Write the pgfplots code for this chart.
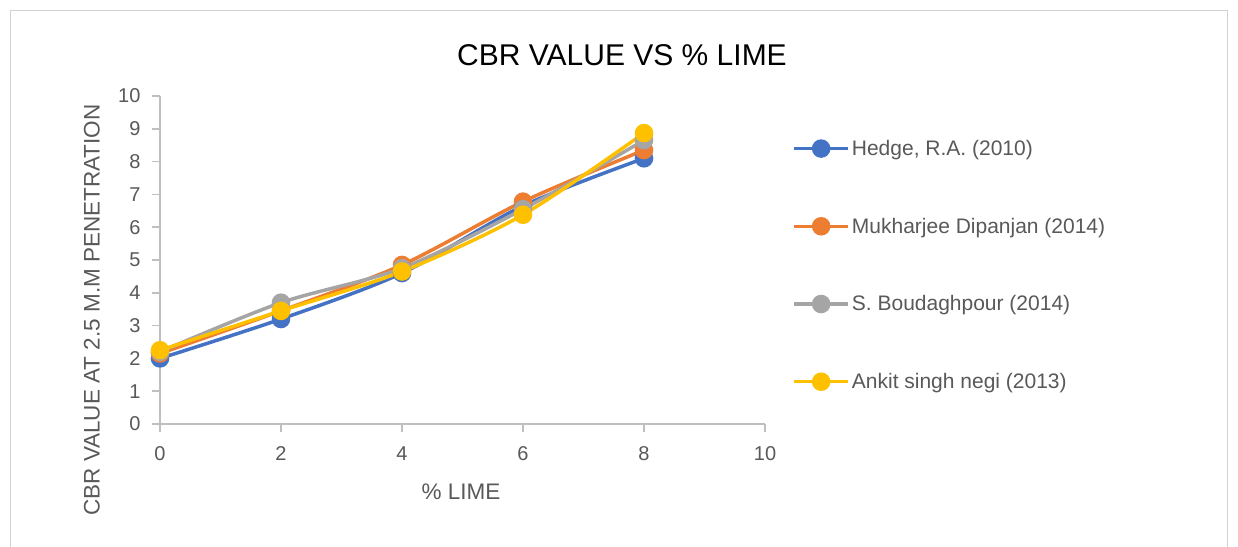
\documentclass[border=0pt]{standalone}
\usepackage{pgfplots}
\pgfplotsset{compat=1.18}
\usepackage{fontspec}
\setmainfont{Liberation Sans}
\definecolor{cblue}{HTML}{4472C4}
\definecolor{corange}{HTML}{ED7D31}
\definecolor{cgray}{HTML}{A5A5A5}
\definecolor{cyellow}{HTML}{FFC000}
\definecolor{txt}{HTML}{595959}
\definecolor{axl}{HTML}{BFBFBF}
\begin{document}
\begin{tikzpicture}
\useasboundingbox (0pt,0pt) rectangle (1238pt,546pt);
\fill[white] (0pt,0pt) rectangle (1238pt,546pt);
\draw[axl!70, line width=1pt] (10.5pt,-5pt) rectangle (1227.5pt,535.5pt);
\node[font=\fontsize{30}{30}\selectfont, text=black] at (622pt,491pt) {CBR VALUE VS \% LIME};
\node[font=\fontsize{22.5}{22.5}\selectfont, text=txt] at (461pt,54pt) {\% LIME};
\node[font=\fontsize{22.5}{22.5}\selectfont, text=txt, rotate=90] at (92pt,236pt) {CBR VALUE AT 2.5 M.M PENETRATION};
\begin{axis}[
  at={(160pt,122pt)}, anchor=south west,
  scale only axis, width=605pt, height=328pt,
  xmin=0, xmax=10, ymin=0, ymax=10,
  xtick={0,2,4,6,8,10}, ytick={0,1,...,10},
  axis lines*=left,
  axis line style={axl, line width=1.5pt},
  tick style={axl, line width=1.5pt},
  tick align=outside, major tick length=8pt,
  /pgf/number format/assume math mode=true,
  tick label style={font=\fontsize{20}{20}\selectfont, text=txt},
  xticklabel style={yshift=-11pt},
  yticklabel style={xshift=-8pt},
  clip=false,
  legend style={at={(1.04,0.878)}, anchor=north west, draw=none, fill=none,
    font=\fontsize{21}{21}\selectfont, text=txt, row sep=57pt,
    nodes={inner sep=2pt}},
  legend cell align=left,
  legend image code/.code={
    \draw[mark repeat=2, mark phase=2] plot coordinates {(0pt,0pt)(27pt,0pt)(54pt,0pt)};
  },
  every axis plot/.append style={line width=3.5pt, mark=*, mark size=7.5pt, smooth},
]
\addplot[cblue, mark options={fill=cblue}] coordinates {(0,2.0)(2,3.2)(4,4.6)(6,6.65)(8,8.1)};
\addlegendentry{Hedge, R.A. (2010)}
\addplot[corange, mark options={fill=corange}] coordinates {(0,2.15)(2,3.45)(4,4.85)(6,6.78)(8,8.35)};
\addlegendentry{Mukharjee Dipanjan (2014)}
\addplot[cgray, mark options={fill=cgray}] coordinates {(0,2.2)(2,3.7)(4,4.75)(6,6.55)(8,8.65)};
\addlegendentry{S. Boudaghpour (2014)}
\addplot[cyellow, mark options={fill=cyellow}] coordinates {(0,2.25)(2,3.45)(4,4.65)(6,6.38)(8,8.87)};
\addlegendentry{Ankit singh negi (2013)}
\end{axis}
\end{tikzpicture}
\end{document}
